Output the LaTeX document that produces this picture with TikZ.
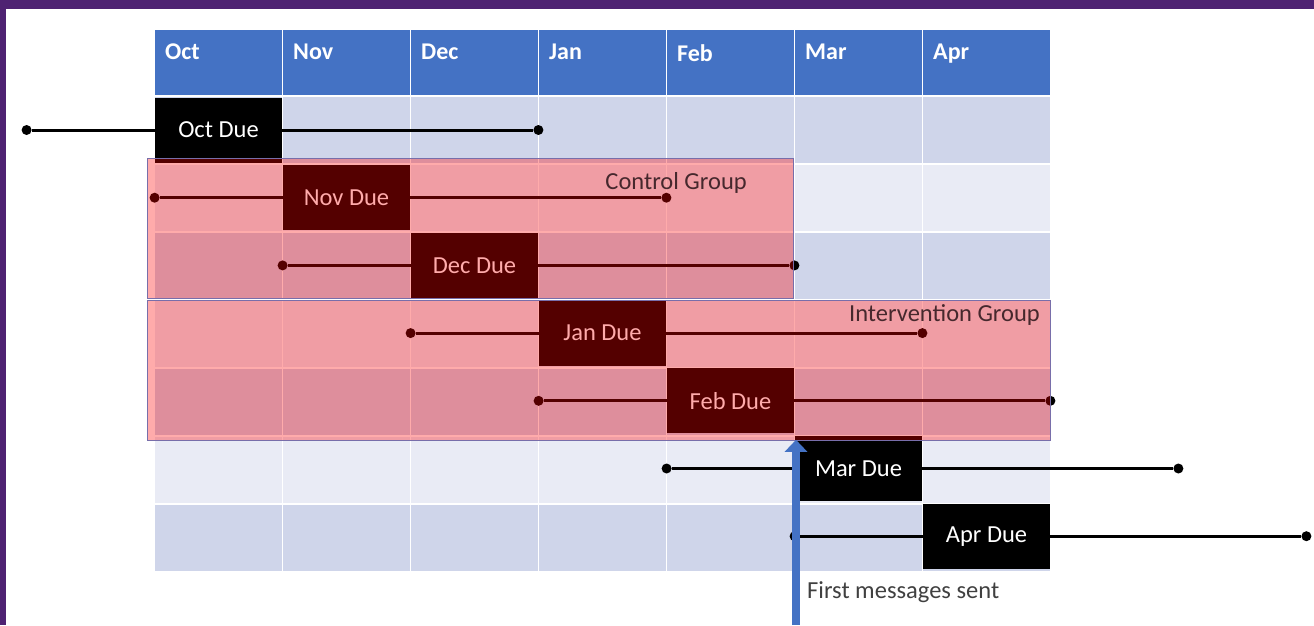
\documentclass[tikz,border=0pt]{standalone}
\usepackage{fontspec}
\setmainfont{Carlito}
\usetikzlibrary{positioning,arrows.meta}

\definecolor{frame}{RGB}{78,34,114}
\definecolor{headblue}{RGB}{68,114,196}
\definecolor{rowdark}{RGB}{207,213,234}
\definecolor{rowlight}{RGB}{233,235,245}
\definecolor{groupline}{RGB}{120,110,170}
\definecolor{grouptext}{RGB}{70,40,45}
\definecolor{notetext}{RGB}{64,64,64}

\begin{document}
\begin{tikzpicture}[
    x=1pt, y=-1pt,
    txt/.style={font=\fontsize{24.5}{28}\selectfont},
    head/.style={rectangle, fill=headblue, anchor=north west, minimum width=127pt, minimum height=65pt, inner sep=0pt},
    headtxt/.style={anchor=north west, inner sep=0pt, text=white, font=\fontsize{24}{28}\selectfont\bfseries, xshift=10pt, yshift=-14pt},
    due/.style={rectangle, fill=black, text=white, txt, minimum width=127pt, minimum height=65pt, inner sep=0pt},
    dot/.style={circle, fill=black, minimum size=10pt, inner sep=0pt},
    tie/.style={line width=3pt},
    group/.style={rectangle, anchor=north west, fill=red, fill opacity=0.33, draw=groupline, line width=1pt, minimum height=140pt, inner sep=0pt},
    grouptxt/.style={txt, text=grouptext, anchor=east, inner sep=0pt},
    arrow/.style={-{Triangle[width=22pt, length=12pt]}, line width=8pt, draw=headblue}
]
    \useasboundingbox (0,0) rectangle (1314,625);
    \fill[frame] (0,0) rectangle (1314,9);
    \fill[frame] (0,0) rectangle (6,625);

    % month table
    \foreach \m [count=\i from 0] in {Oct,Nov,Dec,Jan,Feb,Mar,Apr}
        \node[head, label={[headtxt]north west:\m}] (h\i) at (155+128*\i,30) {};
    \foreach \r in {1,...,7} {
        \pgfmathsetmacro\rowy{97+68*(\r-1)}
        \ifodd\r \def\rc{rowdark}\else \def\rc{rowlight}\fi
        \foreach \c in {0,...,6}
            \fill[\rc] (155+128*\c,\rowy) rectangle +(127,66);
    }

    % due months
    \node[due] (oct) at (218.5,130) {Oct Due};
    \node[due, below right=2.3pt and 0.6pt of oct] (nov) {Nov Due};
    \node[due, below right=2.3pt and 0.6pt of nov] (dec) {Dec Due};
    \node[due, below right=2.3pt and 0.6pt of dec] (jan) {Jan Due};
    \node[due, below right=2.3pt and 0.6pt of jan] (feb) {Feb Due};
    \node[due, below right=2.3pt and 0.6pt of feb] (mar) {Mar Due};
    \node[due, below right=2.3pt and 0.6pt of mar] (apr) {Apr Due};

    \foreach \d in {oct,nov,dec,jan,feb,mar,apr} {
        \node[dot, left=123pt of \d] (\d-l) {};
        \node[dot, right=251pt of \d] (\d-r) {};
        \draw[tie] (\d-l) -- (\d);
        \draw[tie] (\d) -- (\d-r);
    }

    % groups
    \node[group, minimum width=646pt] (control) at (147,158) {};
    \node[group, minimum width=903pt] (intervention) at (147,300) {};
    \node[grouptxt] (controllbl) at (747,183) {Control Group};
    \node[grouptxt] (interventionlbl) at (1040,315) {Intervention Group};

    \coordinate (sent) at (796,625);
    \draw[arrow, shorten >=4pt] (sent) -- (sent |- mar.north west);
    \node[txt, text=notetext, anchor=west, inner sep=0pt] (firstmsg) at (807,592) {First messages sent};
\end{tikzpicture}
\end{document}
